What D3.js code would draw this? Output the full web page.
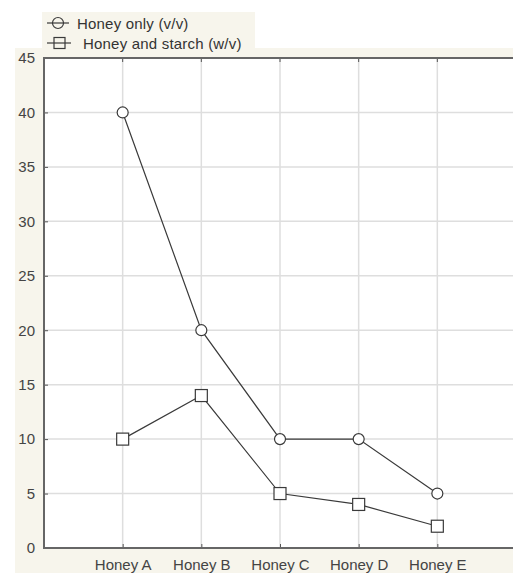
<!DOCTYPE html>
<html><head><meta charset="utf-8">
<script src="https://cdn.jsdelivr.net/npm/d3@7"></script>
<style>body{margin:0;background:#fff;}svg{display:block;}</style>
</head><body>
<script>
const categories = ["Honey A","Honey B","Honey C","Honey D","Honey E"];
const honeyOnly = [40, 20, 10, 10, 5];
const honeyStarch = [10, 14, 5, 4, 2];
const yTicks = [0,5,10,15,20,25,30,35,40,45];
const seriesNames = ["Honey only (v/v)", "Honey and starch (w/v)"];

const W = 513, H = 573;
const svg = d3.select("body").append("svg").attr("width", W).attr("height", H);
const bg = "#f7f5ec";
svg.append("rect").attr("x",15).attr("y",48).attr("width",W-15).attr("height",H-48).attr("fill",bg);
svg.append("rect").attr("x",42).attr("y",12).attr("width",213).attr("height",40).attr("fill",bg);

const x = d3.scaleLinear().domain([0, categories.length + 1]).range([44, 516]);
const y = d3.scaleLinear().domain([0, 45]).range([548, 58]);
const font = "'Liberation Sans', Arial, sans-serif";

svg.append("rect").attr("x",x(0)).attr("y",y(45)).attr("width",x(6)-x(0)).attr("height",y(0)-y(45)).attr("fill","#fff");

const g = svg.append("g");
g.selectAll(".hg").data(yTicks.filter(t=>t>0&&t<45)).enter().append("line")
  .attr("x1",x(0)).attr("x2",x(6)).attr("y1",d=>y(d)).attr("y2",d=>y(d))
  .attr("stroke","#dedede").attr("stroke-width",1.5);
g.selectAll(".vg").data(categories).enter().append("line")
  .attr("x1",(d,i)=>x(i+1)).attr("x2",(d,i)=>x(i+1)).attr("y1",y(0)).attr("y2",y(45))
  .attr("stroke","#dedede").attr("stroke-width",1.5);

const yAxis = d3.axisLeft(y).tickValues(yTicks).tickSize(-4).tickPadding(9);
const ya = svg.append("g").attr("transform",`translate(${x(0)},0)`).call(yAxis);
ya.select(".domain").remove();
ya.selectAll("line").attr("stroke","#555");
ya.selectAll("text").attr("font-family",font).attr("font-size",15).attr("fill","#444");

const xAxis = d3.axisBottom(x).tickValues(d3.range(1, categories.length+1))
  .tickFormat(d=>categories[d-1]).tickSize(-4).tickPadding(11);
const xa = svg.append("g").attr("transform",`translate(0,${y(0)})`).call(xAxis);
xa.select(".domain").remove();
xa.selectAll("line").attr("stroke","#555");
xa.selectAll("text").attr("font-family",font).attr("font-size",15).attr("fill","#444");

svg.append("g").selectAll("line").data(categories).enter().append("line")
  .attr("x1",(d,i)=>x(i+1)).attr("x2",(d,i)=>x(i+1)).attr("y1",y(45)).attr("y2",y(45)+4)
  .attr("stroke","#555");

svg.append("line").attr("x1",x(0)).attr("x2",x(0)).attr("y1",y(45)).attr("y2",y(0)).attr("stroke","#666").attr("stroke-width",2);
svg.append("line").attr("x1",x(0)-1).attr("x2",W).attr("y1",y(0)).attr("y2",y(0)).attr("stroke","#666").attr("stroke-width",2);
svg.append("line").attr("x1",x(0)-1).attr("x2",W).attr("y1",y(45)).attr("y2",y(45)).attr("stroke","#666").attr("stroke-width",2);

const line = d3.line().x((d,i)=>x(i+1)).y(d=>y(d));
const stroke = "#3a3a3a";
[honeyOnly, honeyStarch].forEach(s=>{
  svg.append("path").datum(s).attr("d",line).attr("fill","none").attr("stroke",stroke).attr("stroke-width",1.2);
});
svg.append("g").selectAll("circle").data(honeyOnly).enter().append("circle")
  .attr("cx",(d,i)=>x(i+1)).attr("cy",d=>y(d)).attr("r",5.5)
  .attr("fill","#fff").attr("stroke",stroke).attr("stroke-width",1.2);
svg.append("g").selectAll("rect.m").data(honeyStarch).enter().append("rect")
  .attr("x",(d,i)=>x(i+1)-6).attr("y",d=>y(d)-6).attr("width",12).attr("height",12)
  .attr("fill","#fff").attr("stroke",stroke).attr("stroke-width",1.2);

const leg = svg.append("g");
const rows = [{cy:23, name:seriesNames[0], type:"c", tx:77},{cy:43, name:seriesNames[1], type:"s", tx:83}];
rows.forEach(r=>{
  leg.append("line").attr("x1",47).attr("x2",r.type==="c"?69:71).attr("y1",r.cy).attr("y2",r.cy).attr("stroke",stroke).attr("stroke-width",1.2);
  if(r.type==="c") leg.append("circle").attr("cx",58).attr("cy",r.cy).attr("r",5.5).attr("fill","none").attr("stroke",stroke).attr("stroke-width",1.2);
  else leg.append("rect").attr("x",54).attr("y",r.cy-5.5).attr("width",11).attr("height",11).attr("fill","none").attr("stroke",stroke).attr("stroke-width",1.2);
  leg.append("text").attr("x",r.tx).attr("y",r.cy+5.5).attr("font-family",font).attr("font-size",15)
    .attr("fill","#333").attr("letter-spacing","0.2px").text(r.name);
});
</script>
</body></html>
